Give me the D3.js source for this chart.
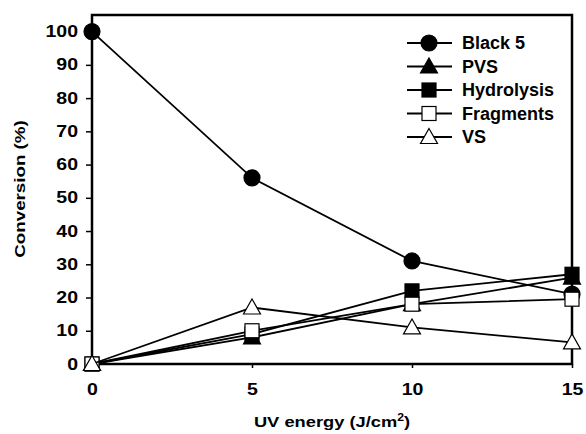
<!DOCTYPE html>
<html><head><meta charset="utf-8">
<script src="https://cdn.jsdelivr.net/npm/d3@7"></script>
<style>body{margin:0;background:#fff}svg{display:block}text{font-family:Arial,"Liberation Sans",sans-serif;font-weight:bold;fill:#000}</style>
</head><body><svg id="c" width="586" height="434"></svg>
<script>
const energy = [0, 5, 10, 15];
const black5 = [100, 56, 31, 21];
const pvs = [0, 8, 18, 26];
const hydrolysis = [0, 9, 22, 27];
const fragments = [0, 10, 18, 19.5];
const vs = [0, 17, 11, 6.5];
const seriesNames = ["Black 5", "PVS", "Hydrolysis", "Fragments", "VS"];
const yTicks = [0,10,20,30,40,50,60,70,80,90,100];
const xTicks = [0,5,10,15];

const series = [
  {name: seriesNames[0], values: black5, shape: "circle", fill: "#000"},
  {name: seriesNames[1], values: pvs, shape: "triangle", fill: "#000"},
  {name: seriesNames[2], values: hydrolysis, shape: "square", fill: "#000"},
  {name: seriesNames[3], values: fragments, shape: "square", fill: "#fff"},
  {name: seriesNames[4], values: vs, shape: "triangle", fill: "#fff"}
];

const svg = d3.select("#c");
const L = 92, R = 572, T = 15, B = 364;
const x = d3.scaleLinear().domain([0, 15]).range([L, R]);
const y = d3.scaleLinear().domain([0, 105]).range([B, T]);

const yAxis = svg.append("g").attr("transform", `translate(${L},0)`)
  .call(d3.axisLeft(y).tickValues(yTicks).tickSize(6).tickPadding(10));
const xAxis = svg.append("g").attr("transform", `translate(0,${B})`)
  .call(d3.axisBottom(x).tickValues(xTicks).tickSize(4).tickPadding(16));
[yAxis, xAxis].forEach(g => {
  g.select(".domain").remove();
  g.selectAll(".tick line").attr("stroke", "#000").attr("stroke-width", 1.5);
  g.selectAll(".tick text").attr("font-size", 16).attr("font-family", "Arial, 'Liberation Sans', sans-serif").attr("font-weight", "bold").attr("fill", "#000");
});
yAxis.selectAll(".tick text").each(function(){
  const t = d3.select(this); const xx = +t.attr("x") + 2;
  t.attr("x", xx).attr("transform", `translate(${xx},0) scale(1.22,1) translate(${-xx},0)`);
});
xAxis.selectAll(".tick text").attr("transform", "scale(1.22,1)");

svg.append("rect").attr("x", L).attr("y", T).attr("width", R - L).attr("height", B - T)
  .attr("fill", "none").attr("stroke", "#000").attr("stroke-width", 2.5);

svg.append("text").attr("transform", "translate(332,427) scale(1.22,1)")
  .attr("text-anchor", "middle").attr("font-size", 15)
  .html('UV energy (J/cm<tspan dy="-6" font-size="10">2</tspan><tspan dy="6">)</tspan>');
svg.append("text").attr("transform", "translate(25,189) rotate(-90) scale(1.25,1)")
  .attr("text-anchor", "middle").attr("font-size", 15).text("Conversion (%)");

function marker(g, shape, fill) {
  if (shape === "circle") {
    g.append("circle").attr("r", 8).attr("fill", fill).attr("stroke", "#000").attr("stroke-width", 1.2);
  } else if (shape === "square") {
    g.append("rect").attr("x", -7).attr("y", -7).attr("width", 14).attr("height", 14)
      .attr("fill", fill).attr("stroke", "#000").attr("stroke-width", 1.2);
  } else {
    g.append("path").attr("d", "M0,-8.5L8.5,6.5L-8.5,6.5Z")
      .attr("fill", fill).attr("stroke", "#000").attr("stroke-width", 1.2);
  }
}

const line = d3.line().x((d, i) => x(energy[i])).y(d => y(d));
series.forEach(s => {
  svg.append("path").attr("d", line(s.values)).attr("fill", "none")
    .attr("stroke", "#000").attr("stroke-width", 1.8);
  s.values.forEach((v, i) => {
    const g = svg.append("g").attr("transform", `translate(${x(energy[i])},${y(v)})`);
    marker(g, s.shape, s.fill);
  });
});

series.forEach((s, i) => {
  const yy = 43 + i * 23.5;
  svg.append("line").attr("x1", 407).attr("x2", 452).attr("y1", yy).attr("y2", yy)
    .attr("stroke", "#000").attr("stroke-width", 1.8);
  const g = svg.append("g").attr("transform", `translate(429,${yy})`);
  marker(g, s.shape, s.fill);
  svg.append("text").attr("x", 462).attr("y", yy).attr("dy", "0.36em")
    .attr("font-size", 18).text(s.name);
});
</script></body></html>
